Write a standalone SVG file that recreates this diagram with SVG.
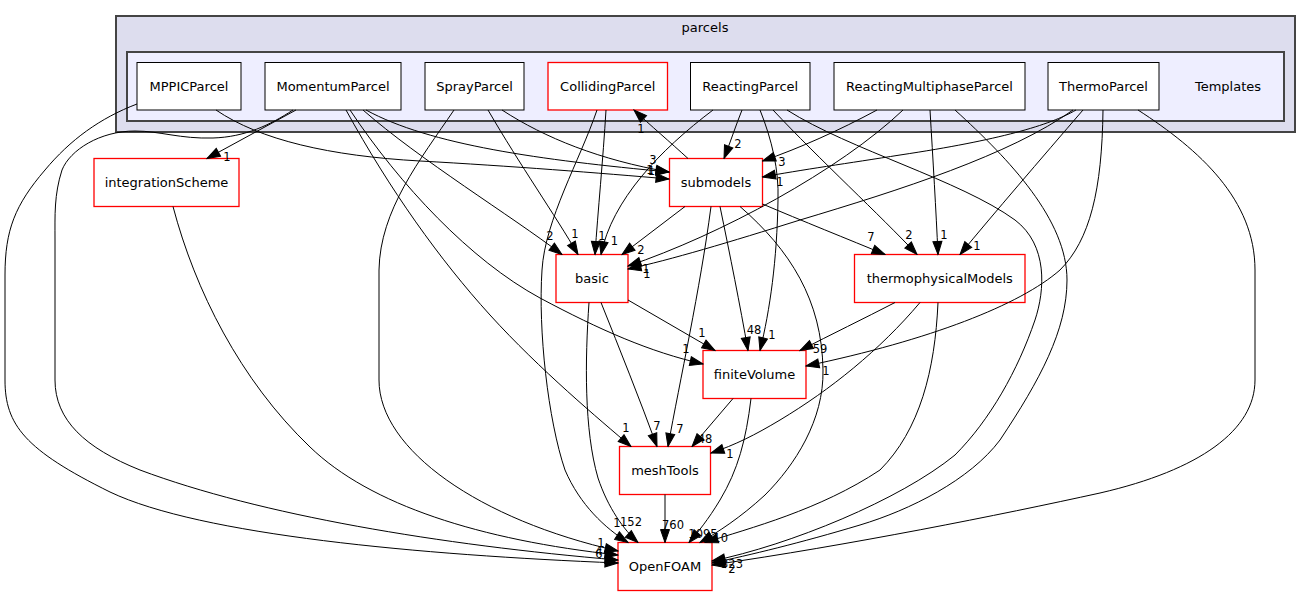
<svg xmlns="http://www.w3.org/2000/svg" width="1311" height="596" viewBox="0 0 1311 596">
<style>
.cl1{fill:#ddddee;stroke:#444;stroke-width:2}
.cl2{fill:#eeeeff;stroke:#444;stroke-width:2}
.nb{fill:#fff;stroke:#000;stroke-width:1}
.nr{fill:#fff;stroke:#ff0000;stroke-width:1.3}
.t{font-family:"DejaVu Sans","Liberation Sans",sans-serif;font-size:13px;fill:#000;text-anchor:middle}
.e{fill:none;stroke:#000;stroke-width:1;marker-end:url(#ah)}
.el{font-family:"DejaVu Sans","Liberation Sans",sans-serif;font-size:11.5px;fill:#000;text-anchor:middle}
</style>
<defs>
<marker id="ah" markerUnits="userSpaceOnUse" markerWidth="15" markerHeight="11" viewBox="0 0 15 11" refX="14" refY="5.5" orient="auto"><path d="M1,1 L14,5.5 L1,10 z" fill="#000" stroke="#000" stroke-width="1"/></marker>
</defs>
<rect width="1311" height="596" fill="#fff"/>
<g id="cluster_parcels">
<rect class="cl1" x="116" y="16" width="1179" height="116"/>
<text class="t" x="705" y="31.5">parcels</text>
</g>
<g id="cluster_Templates">
<rect class="cl2" x="127" y="52" width="1157" height="69"/>
<text class="t" x="1228" y="91">Templates</text>
</g>
<g id="MPPICParcel"><rect class="nb" x="137" y="62.5" width="104" height="47.5"/><text class="t" x="189" y="90.5">MPPICParcel</text></g>
<g id="MomentumParcel"><rect class="nb" x="265" y="62.5" width="136" height="47.5"/><text class="t" x="333" y="90.5">MomentumParcel</text></g>
<g id="SprayParcel"><rect class="nb" x="425" y="62.5" width="99" height="47.5"/><text class="t" x="474.5" y="90.5">SprayParcel</text></g>
<g id="CollidingParcel"><rect class="nr" x="548" y="62.5" width="119.5" height="47.5"/><text class="t" x="607.75" y="90.5">CollidingParcel</text></g>
<g id="ReactingParcel"><rect class="nb" x="690.5" y="62.5" width="119.5" height="47.5"/><text class="t" x="750.25" y="90.5">ReactingParcel</text></g>
<g id="ReactingMultiphaseParcel"><rect class="nb" x="834" y="62.5" width="191" height="47.5"/><text class="t" x="929.5" y="90.5">ReactingMultiphaseParcel</text></g>
<g id="ThermoParcel"><rect class="nb" x="1048" y="62.5" width="111" height="47.5"/><text class="t" x="1103.5" y="90.5">ThermoParcel</text></g>
<g id="integrationScheme"><rect class="nr" x="94" y="158.5" width="145" height="48"/><text class="t" x="166.5" y="186.5">integrationScheme</text></g>
<g id="submodels"><rect class="nr" x="669.5" y="158.5" width="93" height="48"/><text class="t" x="716" y="186.5">submodels</text></g>
<g id="basic"><rect class="nr" x="556" y="254.5" width="72" height="48"/><text class="t" x="592" y="282.5">basic</text></g>
<g id="thermophysicalModels"><rect class="nr" x="854.5" y="254.5" width="170.5" height="48"/><text class="t" x="939.75" y="282.5">thermophysicalModels</text></g>
<g id="finiteVolume"><rect class="nr" x="703" y="350.5" width="103" height="48"/><text class="t" x="754.5" y="378.5">finiteVolume</text></g>
<g id="meshTools"><rect class="nr" x="619.5" y="446.5" width="91" height="48"/><text class="t" x="665" y="474.5">meshTools</text></g>
<g id="OpenFOAM"><rect class="nr" x="618" y="542.5" width="94" height="48"/><text class="t" x="665" y="570.5">OpenFOAM</text></g>
<g id="edges">
<path class="e" d="M216,110 C260,140 330,156 420,161 C510,166 600,173 669,179"/>
<path class="e" d="M137,104 C100,118 70,140 45,170 C15,205 5,230 5,275 L5,380 C5,425 25,450 110,492 C200,535 420,555 618,563"/>
<path class="e" d="M296,110 L207,158.5"/>
<path class="e" d="M293,110 C270,125 245,137 213,138 C180,139 160,131 135,131 C100,131 70,150 62,170 C54,195 55,215 55,240 L55,380 C55,420 85,448 140,470 C260,515 440,545 618,560"/>
<path class="e" d="M366,110 C430,145 540,160 669,172"/>
<path class="e" d="M363,110 C420,160 510,215 562,254.5"/>
<path class="e" d="M350,110 C400,185 470,260 540,298 C600,330 650,352 703,364"/>
<path class="e" d="M346,110 C390,190 440,260 490,315 C540,370 600,420 631,446.5"/>
<path class="e" d="M502,110 C545,138 600,160 669,172"/>
<path class="e" d="M488,110 C520,165 555,215 578,254.5"/>
<path class="e" d="M454,110 C420,160 380,210 379,270 L379,380 C379,450 480,520 618,551"/>
<path class="e" d="M606,110 C603,160 598,210 595,254.5"/>
<path class="e" d="M597,110 C580,160 545,220 542,270 C538,330 548,420 565,470 C580,505 605,528 628,542.5"/>
<path class="e" d="M688,158.5 C670,142 650,125 634,110"/>
<path class="e" d="M742,110 C736,125 730,143 724,158.5"/>
<path class="e" d="M713,110 C660,150 612,200 601,254.5"/>
<path class="e" d="M760,110 C772,140 779,170 778,200 C777,260 770,310 760,350.5"/>
<path class="e" d="M773,110 C820,160 880,215 917,254.5"/>
<path class="e" d="M787,110 C850,150 960,180 1015,220 C1048,245 1045,290 1035,320 C1018,370 990,420 955,455 C900,500 790,545 712,561"/>
<path class="e" d="M877,110 C840,130 800,148 762.5,161"/>
<path class="e" d="M903,110 C840,170 720,235 628,266"/>
<path class="e" d="M930,110 C933,160 936,210 938,254.5"/>
<path class="e" d="M955,110 C1010,160 1067,220 1067,280 C1067,330 1040,380 1000,440 C970,480 910,510 860,525 C800,543 750,555 712,563"/>
<path class="e" d="M1076,110 C1050,125 1000,140 900,155 C850,163 800,170 762.5,177"/>
<path class="e" d="M1073,110 C1010,155 900,190 800,220 C730,242 670,260 628,269"/>
<path class="e" d="M1083,110 C1040,160 995,212 960,254.5"/>
<path class="e" d="M1103,110 C1102,190 1090,240 1060,270 C1020,305 930,340 806,366"/>
<path class="e" d="M1138,110 C1200,150 1255,200 1255,270 L1255,380 C1255,430 1200,470 1100,493 C1000,515 850,545 712,565"/>
<path class="e" d="M685,206.5 L622,254.5"/>
<path class="e" d="M762.5,204 C800,220 850,240 885,254.5"/>
<path class="e" d="M720,206.5 C730,255 740,305 748,350.5"/>
<path class="e" d="M711,206.5 C700,290 680,380 668,446.5"/>
<path class="e" d="M740,206.5 C790,250 822,300 823,370 C824,420 795,465 765,495 C740,518 718,532 700,542.5"/>
<path class="e" d="M628,300 L715,350.5"/>
<path class="e" d="M601,302.5 C620,350 640,400 657,446.5"/>
<path class="e" d="M589,302.5 C585,360 584,430 598,478 C608,508 624,530 638,542.5"/>
<path class="e" d="M895,302.5 C865,318 830,335 800,350.5"/>
<path class="e" d="M920,302.5 C880,350 830,390 780,420 C755,435 735,445 711,453"/>
<path class="e" d="M938,302.5 C935,370 920,430 880,470 C820,510 750,528 705,542.5"/>
<path class="e" d="M733,398.5 L692,446.5"/>
<path class="e" d="M751,398.5 C746,440 738,470 720,500 C708,520 698,532 689,542.5"/>
<path class="e" d="M665,494.5 L665,542.5"/>
<path class="e" d="M173,206.5 C195,290 240,380 310,447 C370,505 480,540 618,555"/>
<text class="el" x="227" y="161">1</text>
<text class="el" x="653" y="164">3</text>
<text class="el" x="650" y="173.5">1</text>
<text class="el" x="651.5" y="175">1</text>
<text class="el" x="641" y="133">1</text>
<text class="el" x="738" y="148">2</text>
<text class="el" x="782" y="165.5">3</text>
<text class="el" x="780" y="185.5">1</text>
<text class="el" x="550" y="239.5">2</text>
<text class="el" x="575" y="238">1</text>
<text class="el" x="602" y="239.5">1</text>
<text class="el" x="614.5" y="244.5">1</text>
<text class="el" x="641" y="253.5">2</text>
<text class="el" x="646" y="272.5">1</text>
<text class="el" x="647" y="277.5">1</text>
<text class="el" x="871" y="241">7</text>
<text class="el" x="909" y="239">2</text>
<text class="el" x="944" y="239">1</text>
<text class="el" x="977" y="250">1</text>
<text class="el" x="686" y="353">1</text>
<text class="el" x="702" y="337">1</text>
<text class="el" x="754" y="334">48</text>
<text class="el" x="772" y="338.5">1</text>
<text class="el" x="820" y="353">59</text>
<text class="el" x="826" y="375">1</text>
<text class="el" x="626" y="432">1</text>
<text class="el" x="657" y="430">7</text>
<text class="el" x="680" y="433">7</text>
<text class="el" x="705" y="443">48</text>
<text class="el" x="730" y="458">1</text>
<text class="el" x="617" y="527">1</text>
<text class="el" x="631" y="526">152</text>
<text class="el" x="673" y="528.5">760</text>
<text class="el" x="703" y="537.5">1095</text>
<text class="el" x="717" y="541.5">110</text>
<text class="el" x="601" y="547">1</text>
<text class="el" x="599" y="555">4</text>
<text class="el" x="599" y="558">6</text>
<text class="el" x="732" y="568">323</text>
<text class="el" x="732" y="573">2</text>
</g>
</svg>
